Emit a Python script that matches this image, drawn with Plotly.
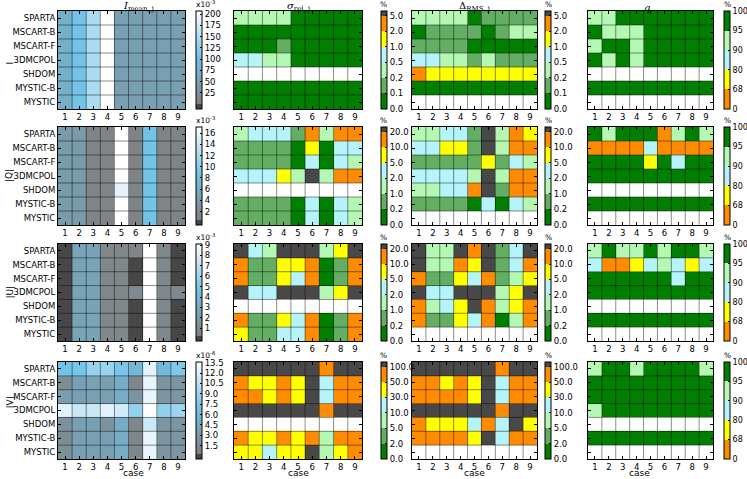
import numpy as np
import plotly.graph_objects as go

W, H = 747, 479

models = ["SPARTA", "MSCART-B", "MSCART-F", "3DMCPOL", "SHDOM", "MYSTIC-B", "MYSTIC"]
cases = [1, 2, 3, 4, 5, 6, 7, 8, 9]
quantities = ["I", "|Q|", "|U|", "|V|"]
col_titles = ["<i>I</i><sub>mean, j</sub>", "<i>σ</i><sub>rel, j</sub>",
              "Δ<sub>RMS, j</sub>", "<i>q</i>"]

# mean values (rows = models, columns = cases), I/Q/U in 1e-3, V in 1e-6
I_mean = [
    [72, 103, 145, 215, 50, 50, 50, 50, 50],
    [72, 103, 145, 215, 50, 50, 50, 50, 50],
    [72, 103, 145, 215, 50, 50, 50, 50, 50],
    [72, 103, 145, 215, 50, 50, 50, 50, 50],
    [72, 103, 145, 215, 50, 50, 50, 50, 50],
    [72, 103, 145, 215, 50, 50, 50, 50, 50],
    [72, 103, 145, 215, 50, 50, 50, 50, 50],
]
Q_mean = [
    [3.8, 3.8, 1.0, 1.0, 17.5, 1.0, 8.8, 1.0, 1.0],
    [3.8, 3.8, 1.0, 1.0, 17.5, 1.0, 8.8, 1.0, 1.0],
    [3.8, 3.8, 1.0, 1.0, 17.5, 1.0, 8.8, 1.0, 1.0],
    [3.8, 3.8, 1.0, 1.0, 17.5, 1.0, 8.8, 1.0, 1.0],
    [3.8, 3.8, 1.0, 1.0, 15.5, 1.0, 8.8, 1.0, 1.0],
    [3.8, 3.8, 1.0, 1.0, 17.5, 1.0, 8.8, 1.0, 1.0],
    [3.8, 3.8, 1.0, 1.0, 17.5, 1.0, 8.8, 1.0, 1.0],
]
U_mean = [
    [0.1, 2.6, 2.6, 0.7, 0.7, 0.6, 9.5, 0.8, 0.1],
    [0.1, 2.6, 2.6, 0.7, 0.7, 0.1, 9.5, 0.8, 0.1],
    [0.1, 2.6, 2.6, 0.7, 0.7, 0.1, 9.5, 0.8, 0.1],
    [0.1, 2.6, 2.6, 0.7, 0.7, 0.9, 9.5, 0.8, 0.8],
    [0.1, 2.6, 2.6, 0.7, 0.7, 0.1, 9.5, 0.8, 0.1],
    [0.1, 2.6, 2.6, 0.7, 0.7, 0.1, 9.5, 0.8, 0.1],
    [0.1, 2.6, 2.6, 0.7, 0.7, 0.1, 9.5, 0.8, 0.1],
]
V_mean = [
    [7.0, 7.2, 8.7, 8.8, 7.3, 5.9, 12.3, 6.0, 7.5],
    [1.6, 3.6, 3.6, 3.4, 4.7, 1.0, 12.5, 2.3, 2.4],
    [3.3, 3.5, 3.5, 3.5, 4.7, 2.3, 12.5, 2.4, 2.4],
    [12.3, 11.0, 11.0, 12.2, 11.5, 8.5, 14.0, 8.4, 8.9],
    [2.2, 3.5, 3.5, 2.2, 4.7, 1.0, 11.2, 2.4, 2.4],
    [1.6, 3.5, 3.5, 3.5, 4.7, 1.0, 12.5, 2.4, 2.4],
    [1.8, 3.5, 3.5, 3.5, 4.7, 1.0, 12.5, 2.4, 2.4],
]
mean_ranges = [(0, 207), (0.5, 17.1), (0.25, 9.1), (0.3, 13.6)]
mean_ticks = [
    [25, 50, 75, 100, 125, 150, 175, 200],
    [2, 4, 6, 8, 10, 12, 14, 16],
    [1, 2, 3, 4, 5, 6, 7, 8, 9],
    [1.5, 3.0, 4.5, 6.0, 7.5, 9.0, 10.5, 12.0, 13.5],
]
mean_ticktext = [
    ["25", "50", "75", "100", "125", "150", "175", "200"],
    ["2", "4", "6", "8", "10", "12", "14", "16"],
    ["1", "2", "3", "4", "5", "6", "7", "8", "9"],
    ["1.5", "3.0", "4.5", "6.0", "7.5", "9.0", "10.5", "12.0", "13.5"],
]
mean_units = ["x10<sup>-3</sup>", "x10<sup>-3</sup>", "x10<sup>-3</sup>", "x10<sup>-6</sup>"]

# class of sigma_rel / Delta_RMS per cell: 0..5 = colour band, 6 = above top, - = no value
sig_I = ["222200000", "000000000", "000100000", "332200000", "---------", "000000000", "000000000"]
dlt_I = ["222201111", "011110122", "111100000", "332212111", "544444444", "000000000", "---------"]
sig_Q = ["233315255", "111104033", "111103032", "333426255", "---------", "111103032", "111103032"]
dlt_Q = ["223316254", "334416255", "111114132", "333326255", "223356155", "111103032", "---------"]
sig_U = ["632666246", "511445015", "511435015", "633666246", "---------", "511435015", "411335015"]
dlt_U = ["622656136", "622546135", "511435124", "633666246", "523465245", "511435025", "---------"]
sig_V = ["666666566", "544546355", "554546355", "666666566", "---------", "544545255", "443446245"]
dlt_V = ["666666566", "554546355", "555546355", "666666566", "544435364", "555546355", "---------"]
band_labels = [
    ["0.0", "0.1", "0.2", "0.5", "1.0", "2.0", "5.0"],
    ["0.0", "0.2", "1.0", "2.0", "5.0", "10.0", "20.0"],
    ["0.0", "0.2", "1.0", "2.0", "5.0", "10.0", "20.0"],
    ["0.0", "2.0", "5.0", "10.0", "30.0", "50.0", "100.0"],
]

# class of q per cell: 0 = <68, 1 = 68-80, 2 = 80-90, 3 = 90-95, 4 = 95-100
q_I = ["334444444", "433344444", "344344444", "434344444", "---------", "444444444", "---------"]
q_Q = ["434440343", "000020000", "444414244", "444444444", "---------", "444444444", "---------"]
q_U = ["343343443", "200123212", "444444244", "444444444", "---------", "444444444", "---------"]
q_V = ["344344443", "444444444", "444444444", "344444444", "---------", "444444444", "---------"]
q_labels = ["0", "68", "80", "90", "95", "100"]

means = [I_mean, Q_mean, U_mean, V_mean]
sigs = [sig_I, sig_Q, sig_U, sig_V]
dlts = [dlt_I, dlt_Q, dlt_U, dlt_V]
qs = [q_I, q_Q, q_U, q_V]

band_colors = ["#007f00", "#63ae63", "#b4f8b4", "#b4f4fa", "#ffff00", "#ff8c00", "#484848"]
q_colors = ["#ff8c00", "#ffff00", "#b4f4fa", "#b4f8b4", "#007f00"]
under_color = "#474747"

# panel placement in pixels
col_x = [(58, 185), (234, 362), (412, 537), (588, 713)]
row_y = [(11, 109), (127, 225), (244, 341), (362, 459)]
bar_x = [196, 381, 545, 724]


def fx(p):
    return p / W


def fy(p):
    return 1 - p / H


def step_scale(colors, edges):
    top = edges[-1]
    cs = []
    for c, a, b in zip(colors, edges[:-1], edges[1:]):
        cs += [[a / top, c], [b / top, c]]
    return cs


def parse(grid, over):
    z = []
    for row in grid:
        z.append([np.nan if ch == "-" else (over if ch == "6" else int(ch) + 0.5) for ch in row])
    return z


fig = go.Figure()
layout = {}
annotations = []

for r in range(4):
    y0, y1 = row_y[r]
    hpx = y1 - y0
    for c in range(4):
        k = r * 4 + c + 1
        xa = "x" if k == 1 else f"x{k}"
        ya = "y" if k == 1 else f"y{k}"
        cb = dict(x=fx(bar_x[c]), xanchor="left", y=fy((y0 + y1) / 2), yanchor="middle",
                  len=hpx / H, lenmode="fraction", thickness=6, xpad=0, ypad=0,
                  outlinewidth=1, outlinecolor="black", ticks="inside", ticklen=2,
                  tickcolor="black", tickfont=dict(size=8 if c == 3 else 8.5, color="black"))

        if c == 0:
            vmin, vmax = mean_ranges[r]
            under = (vmax - vmin) * 5 / (hpx - 5)
            zmin = vmin - under
            u = under / (vmax - zmin)
            scale = [[0, under_color], [u, under_color], [u, "#808080"],
                     [u + 0.5 * (1 - u), "#72c3e8"], [1, "#ffffff"]]
            z = means[r]
            zmax = vmax
            cb.update(tickvals=mean_ticks[r], ticktext=mean_ticktext[r])
        elif c in (1, 2):
            grid = sigs[r] if c == 1 else dlts[r]
            edges = [0, 1, 2, 3, 4, 5, 6, 6.3]
            scale = step_scale(band_colors, edges)
            z = parse(grid, 6.15)
            zmin, zmax = 0, 6.3
            cb.update(tickvals=list(range(7)), ticktext=band_labels[r])
        else:
            scale = step_scale(q_colors, [0, 1, 2, 3, 4, 5])
            z = parse(qs[r], 4.5)
            zmin, zmax = 0, 5
            cb.update(tickvals=list(range(6)), ticktext=q_labels)

        fig.add_trace(go.Heatmap(
            z=z, x=cases, y=list(range(7)), colorscale=scale, zmin=zmin, zmax=zmax,
            colorbar=cb, xaxis=xa, yaxis=ya, hoverongaps=False,
        ))

        # cell borders
        gx, gy = [], []
        for v in np.arange(1.5, 9, 1):
            gx += [v, v, None]
            gy += [-0.5, 6.5, None]
        for v in np.arange(0.5, 6, 1):
            gx += [0.5, 9.5, None]
            gy += [v, v, None]
        fig.add_trace(go.Scatter(x=gx, y=gy, mode="lines", xaxis=xa, yaxis=ya,
                                 line=dict(color="rgba(0,0,0,0.45)", width=1),
                                 hoverinfo="skip", showlegend=False))

        x0, x1 = col_x[c]
        layout["xaxis" if k == 1 else f"xaxis{k}"] = dict(
            domain=[fx(x0), fx(x1)], anchor=ya, range=[0.5, 9.5], tickvals=cases,
            ticks="inside", ticklen=3, tickcolor="black", showline=True, linecolor="black",
            linewidth=1, mirror="ticks", showgrid=False, zeroline=False, automargin=False,
            tickfont=dict(size=8.5, color="black"),
        )
        layout["yaxis" if k == 1 else f"yaxis{k}"] = dict(
            domain=[fy(y1), fy(y0)], anchor=xa, range=[6.5, -0.5], tickvals=list(range(7)),
            ticktext=models, showticklabels=(c == 0), ticks="inside", ticklen=3,
            tickcolor="black", showline=True, linecolor="black", linewidth=1, mirror="ticks",
            showgrid=False, zeroline=False, automargin=False,
            tickfont=dict(size=8.5, color="black"),
        )

        # label above colour bar
        annotations.append(dict(
            text=mean_units[r] if c == 0 else "%", xref="paper", yref="paper",
            x=fx(bar_x[c] - 1) if c == 0 else fx(bar_x[c] + 3),
            xanchor="left" if c == 0 else "center",
            y=fy(y0 - 1), yanchor="bottom", showarrow=False, borderpad=0,
            font=dict(size=7.5, color="black"),
        ))

        if r == 3:
            annotations.append(dict(
                text="case", xref="paper", yref="paper", x=fx((x0 + x1) / 2), y=0,
                yanchor="bottom", showarrow=False, borderpad=0,
                font=dict(size=9, color="black"),
            ))

    annotations.append(dict(
        text=quantities[r], xref="paper", yref="paper", x=fx(2), y=fy((y0 + y1) / 2),
        textangle=-90, showarrow=False, font=dict(size=9, color="black"),
    ))

for c in range(4):
    x0, x1 = col_x[c]
    annotations.append(dict(
        text=col_titles[c], xref="paper", yref="paper", x=fx((x0 + x1) / 2),
        y=fy(row_y[0][0] + 3), yanchor="bottom", showarrow=False, borderpad=0,
        font=dict(size=10, color="black", family="DejaVu Serif"),
    ))

fig.update_layout(
    **layout,
    annotations=annotations,
    width=W, height=H,
    margin=dict(l=0, r=0, t=0, b=0, autoexpand=False),
    paper_bgcolor="white", plot_bgcolor="white",
    font=dict(family="DejaVu Sans", size=8.5, color="black"),
    showlegend=False,
)

fig.write_html("out.html", config={"displayModeBar": False},
               post_script="document.body.style.margin = '0';")
